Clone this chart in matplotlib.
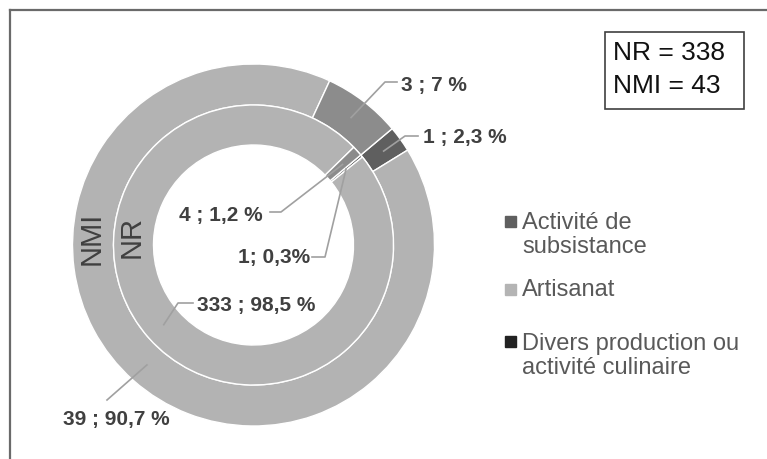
import numpy as np
import matplotlib
matplotlib.use("Agg")
import matplotlib.pyplot as plt
from matplotlib.patches import Rectangle
from matplotlib.lines import Line2D

plt.rcParams['font.family'] = ['Liberation Sans', 'DejaVu Sans']

# --- données (ordre de tracé, sens horaire) ---
categories = ['Divers production ou\nactivité culinaire', 'Artisanat', 'Activité de\nsubsistance']
nmi_counts = [1, 39, 3]
nmi_labels = ['1 ; 2,3 %', '39 ; 90,7 %', '3 ; 7 %']
nr_counts = [1, 333, 4]
nr_labels = ['1; 0,3%', '333 ; 98,5 %', '4 ; 1,2 %']
totals = ['NR = 338', 'NMI = 43']

ring_colors = ['#5f5f5f', '#b3b3b3', '#8c8c8c']
key_colors = ['#222222', '#b4b4b4', '#5f5f5f']

W, H = 767, 459
CX, CY, R = 253.5, 245, 181.0
R_MID = 140 / R
R_HOLE = 100 / R
START = 50  # angle du premier secteur, depuis le haut, sens horaire


def fig_xy(x, y):
    return x / W, 1 - y / H


def data_xy(x, y):
    return (x - CX) / R, (CY - y) / R


fig = plt.figure(figsize=(W / 100, H / 100), dpi=100)

# cadre (haut + gauche)
fig.add_artist(Line2D([10 / W, 1], [1 - 10 / H, 1 - 10 / H], color='#6a6a6a', lw=1.6))
fig.add_artist(Line2D([10 / W, 10 / W], [0, 1 - 10 / H], color='#6a6a6a', lw=1.6))

ax = fig.add_axes([(CX - R) / W, 1 - (CY + R) / H, 2 * R / W, 2 * R / H])
ax.pie(nmi_counts, radius=1, colors=ring_colors, startangle=90 - START, counterclock=False,
       wedgeprops=dict(width=1 - R_MID, edgecolor='white', linewidth=1))
ax.pie(nr_counts, radius=R_MID, colors=ring_colors, startangle=90 - START, counterclock=False,
       wedgeprops=dict(width=R_MID - R_HOLE, edgecolor='white', linewidth=1))
ax.set_xlim(-1, 1)
ax.set_ylim(-1, 1)
ax.set_aspect('equal')
ax.axis('off')


def anchors(counts, r_in, r_out):
    counts = np.asarray(counts, float)
    frac = counts / counts.sum()
    mids = START + (np.cumsum(frac) - frac / 2) * 360
    th = np.radians(90 - mids)
    r = (r_in + r_out) / 2
    return list(zip(r * np.cos(th), r * np.sin(th)))


# placement des étiquettes : coude, fin du trait, texte (pixels)
nmi_place = [((405, 136), (418, 136), (423, 137), 'left'),
             ((107, 400), None, (116.5, 419), 'center'),
             ((385, 82), (397, 82), (401, 85), 'left')]
nr_place = [((325, 257), (312, 257), (310, 258), 'right'),
            ((178, 303), (193, 303), (197, 305), 'left'),
            ((281, 212), (270, 212), (263, 215), 'right')]

for counts, labels, place, r_in, r_out in [
        (nmi_counts, nmi_labels, nmi_place, R_MID, 1),
        (nr_counts, nr_labels, nr_place, R_HOLE, R_MID)]:
    for (ax0, ay0), lab, (elbow, end, txt, ha) in zip(anchors(counts, r_in, r_out), labels, place):
        pts = [(ax0, ay0), data_xy(*elbow)]
        if end is not None:
            pts.append(data_xy(*end))
        xs, ys = zip(*pts)
        ax.plot(xs, ys, color='#a0a0a0', lw=1.2, clip_on=False)
        tx, ty = data_xy(*txt)
        ax.text(tx, ty, lab, ha=ha, va='center', fontsize=15, fontweight='bold',
                color='#404040', clip_on=False)

# noms des anneaux
ax.text(*data_xy(92, 238), 'NMI', rotation=90, ha='center', va='center', fontsize=21, color='#404040')
ax.text(*data_xy(132, 237), 'NR', rotation=90, ha='center', va='center', fontsize=21, color='#404040')

# légende
leg_y = [(222, 235), (290, 290), (342, 356)]
for cat, col, (sy, ty) in zip(categories[::-1], key_colors[::-1], leg_y):
    fig.add_artist(Rectangle(fig_xy(505, sy + 5), 11 / W, 11 / H, color=col))
    fig.text(*fig_xy(522, ty), cat, ha='left', va='center', fontsize=17, color='#595959',
             linespacing=1.12)

# encadré des effectifs
fig.add_artist(Rectangle(fig_xy(605, 109), 139 / W, 77 / H, fill=False, edgecolor='#404040', lw=1.2))
fig.text(*fig_xy(613, 53), totals[0], ha='left', va='center', fontsize=19, color='#111111')
fig.text(*fig_xy(613, 86), totals[1], ha='left', va='center', fontsize=19, color='#111111')

fig.savefig('out.png', dpi=100)
